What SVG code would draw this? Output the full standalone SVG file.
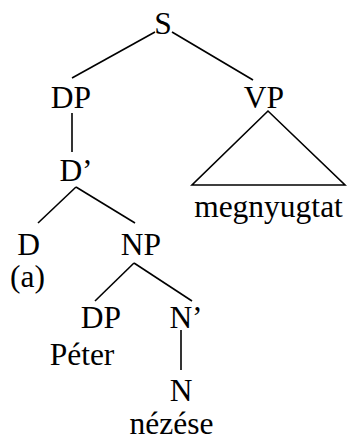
<svg xmlns="http://www.w3.org/2000/svg" width="347" height="441" viewBox="0 0 347 441">
<style>
text{font-family:'Liberation Serif','Times New Roman','DejaVu Serif',serif;font-size:31.5px;fill:#000;text-anchor:middle}
.e{stroke:#000;stroke-width:1.6;fill:none}
</style>
<rect width="347" height="441" fill="#fff"/>
<g id="connectors">
<line class="e" x1="155" y1="32" x2="72" y2="78"/>
<line class="e" x1="172" y1="32" x2="253" y2="80"/>
<line class="e" x1="72" y1="113" x2="72" y2="152"/>
<line class="e" x1="76" y1="187" x2="38" y2="223"/>
<line class="e" x1="76" y1="187" x2="135" y2="223"/>
<line class="e" x1="134" y1="263" x2="95" y2="301"/>
<line class="e" x1="134" y1="263" x2="192" y2="301"/>
<line class="e" x1="181" y1="330" x2="181" y2="370"/>
</g>
<g id="S"><text x="163" y="34">S</text></g>
<g id="DP1"><text x="71" y="108">DP</text></g>
<g id="VP"><text x="264" y="108">VP</text></g>
<g id="VP-tri"><polygon class="e" points="268,111 192,185 345,185"/></g>
<g id="megnyugtat"><text x="268.5" y="217">megnyugtat</text></g>
<g id="Dbar"><text x="76" y="181">D’</text></g>
<g id="D"><text x="28.5" y="255">D</text></g>
<g id="a"><text x="27.5" y="287">(a)</text></g>
<g id="NP"><text x="141" y="255">NP</text></g>
<g id="DP2"><text x="101" y="328">DP</text></g>
<g id="Peter"><text x="82" y="365">Péter</text></g>
<g id="Nbar"><text x="186" y="328">N’</text></g>
<g id="N"><text x="181" y="401">N</text></g>
<g id="nezese"><text x="171.5" y="434">nézése</text></g>
</svg>
